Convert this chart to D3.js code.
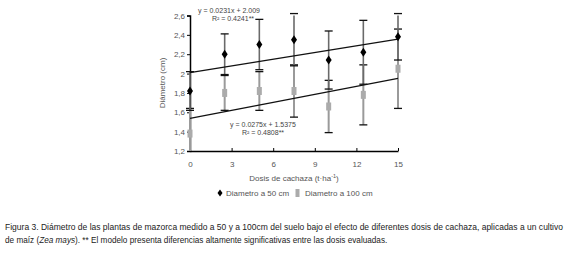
<!DOCTYPE html>
<html>
<head>
<meta charset="utf-8">
<script src="https://cdn.jsdelivr.net/npm/d3@7"></script>
<style>
  body { margin: 0; background: #fff; }
  svg { display: block; font-family: "Liberation Sans", Arial, sans-serif; }
</style>
</head>
<body>
<svg id="chart-area"></svg>
<script>
// data
const dosis = [0, 2.5, 5, 7.5, 10, 12.5, 15]
const diam50 = [1.82, 2.20, 2.30, 2.35, 2.14, 2.22, 2.38]
const err50 = [0.20, 0.21, 0.26, 0.27, 0.30, 0.33, 0.24]
const diam100 = [1.38, 1.80, 1.82, 1.82, 1.66, 1.78, 2.05]
const err100 = [0.26, 0.18, 0.20, 0.27, 0.27, 0.31, 0.41]
const yTicks = [1.2, 1.4, 1.6, 1.8, 2.0, 2.2, 2.4, 2.6]
const yTickLabels = ["1,2", "1,4", "1,6", "1,8", "2", "2,2", "2,4", "2,6"]
const xTicks = [0, 3, 6, 9, 12, 15]
// trend lines: slope, intercept
const fitSlope = [0.0231, 0.0275]
const fitIntercept = [2.009, 1.5375]
const fitLabels = [["y = 0.0231x + 2.009", "R² = 0.4241**"], ["y = 0.0275x + 1.5375", "R² = 0.4808**"]]
const seriesNames = ["Diametro a 50 cm", "Diametro a 100 cm"]

const svgWidth = 570, svgHeight = 254
const svg = d3.select("#chart-area").attr("width", svgWidth).attr("height", svgHeight)

const xScale = d3.scaleLinear().domain([0, 15]).range([190, 398])
const yScale = d3.scaleLinear().domain([1.2, 2.6]).range([151, 15.5])
const clampY = v => yScale(Math.max(1.2, Math.min(2.6, v)))

// axes
const yAxis = svg.append("g")
    .attr("transform", "translate(190,0)")
    .call(d3.axisLeft(yScale).tickValues(yTicks)
        .tickFormat((d, i) => yTickLabels[i]).tickSize(3).tickPadding(2))
yAxis.select(".domain").attr("stroke", "#000").attr("stroke-width", 1.5)
yAxis.selectAll("text").attr("font-size", 8).attr("fill", "#555").attr("font-family", "Liberation Sans, Arial")

const xAxis = svg.append("g")
    .attr("transform", "translate(0,151)")
    .call(d3.axisBottom(xScale).tickValues(xTicks).tickSizeInner(-3).tickSizeOuter(0).tickPadding(10))
xAxis.select(".domain").attr("stroke", "#000").attr("stroke-width", 1.5)
xAxis.selectAll("text").attr("font-size", 8).attr("fill", "#555").attr("font-family", "Liberation Sans, Arial")

svg.append("text")
    .attr("transform", `rotate(-90) translate(${-83},165)`)
    .attr("text-anchor", "middle")
    .attr("font-size", 8).attr("fill", "#555")
    .text("Diámetro (cm)")

svg.append("text")
    .attr("x", 294).attr("y", 181)
    .attr("text-anchor", "middle")
    .attr("font-size", 8).attr("fill", "#555")
    .text("Dosis de cachaza (t·ha")
    .append("tspan").attr("font-size", 5.5).attr("dy", -3).text("-1")
    .select(function() { return this.parentNode })
    .append("tspan").attr("dy", 3).text(")")

// error bars
function errorBars(vals, errs, color, width) {
    const g = svg.append("g")
    g.selectAll("line.bar").data(dosis).enter().append("line")
        .attr("x1", d => xScale(d)).attr("x2", d => xScale(d))
        .attr("y1", (d, i) => clampY(vals[i] + errs[i]))
        .attr("y2", (d, i) => clampY(vals[i] - errs[i]))
        .attr("stroke", color).attr("stroke-width", width)
    const caps = []
    dosis.forEach((d, i) => {
        caps.push([d, vals[i] + errs[i]])
        if (vals[i] - errs[i] >= 1.2) caps.push([d, vals[i] - errs[i]])
    })
    g.selectAll("line.cap").data(caps).enter().append("line")
        .attr("x1", d => xScale(d[0]) - 4).attr("x2", d => xScale(d[0]) + 4)
        .attr("y1", d => yScale(d[1])).attr("y2", d => yScale(d[1]))
        .attr("stroke", "#111").attr("stroke-width", 1.3)
}
errorBars(diam100, err100, "#9a9a9a", 2)
errorBars(diam50, err50, "#6a6a6a", 1.6)

// trend lines
fitSlope.forEach((m, i) => {
    svg.append("line")
        .attr("x1", xScale(0)).attr("x2", xScale(15))
        .attr("y1", yScale(fitIntercept[i])).attr("y2", yScale(fitIntercept[i] + m * 15))
        .attr("stroke", "#111").attr("stroke-width", 1.2)
})

// markers
svg.append("g").selectAll("rect").data(dosis).enter().append("rect")
    .attr("x", d => xScale(d) - 2.5).attr("y", (d, i) => yScale(diam100[i]) - 4)
    .attr("width", 5).attr("height", 8)
    .attr("fill", "#ababab")
svg.append("g").selectAll("path").data(dosis).enter().append("path")
    .attr("d", (d, i) => {
        const x = xScale(d), y = yScale(diam50[i])
        return `M${x},${y - 4.5}L${x + 3},${y}L${x},${y + 4.5}L${x - 3},${y}Z`
    })
    .attr("fill", "#000")

// equation labels
const fitPos = [[[229, 13], [233, 21]], [[263, 127], [263, 135]]]
fitLabels.forEach((lines, i) => {
    lines.forEach((t, j) => {
        svg.append("text")
            .attr("x", fitPos[i][j][0]).attr("y", fitPos[i][j][1])
            .attr("text-anchor", "middle")
            .attr("font-size", 7).attr("fill", "#444")
            .text(t)
    })
})

// legend
const legend = svg.append("g").attr("font-size", 8).attr("fill", "#555")
legend.append("path")
    .attr("d", "M220,189.5L222.5,193L220,196.5L217.5,193Z").attr("fill", "#000")
legend.append("text").attr("x", 226).attr("y", 196).text(seriesNames[0])
legend.append("rect").attr("x", 295.5).attr("y", 189).attr("width", 4).attr("height", 8).attr("fill", "#ababab")
legend.append("text").attr("x", 305).attr("y", 196).text(seriesNames[1])

// caption
const cap = svg.append("g").attr("font-size", 8.2).attr("fill", "#222")
cap.append("text").attr("x", 5).attr("y", 230).attr("textLength", 558).attr("lengthAdjust", "spacingAndGlyphs")
    .text("Figura 3. Diámetro de las plantas de mazorca medido a 50 y a 100cm del suelo bajo el efecto de diferentes dosis de cachaza, aplicadas a un cultivo")
const line2 = cap.append("text").attr("x", 5).attr("y", 243)
line2.append("tspan").text("de maíz (")
line2.append("tspan").attr("font-style", "italic").text("Zea mays")
line2.append("tspan").text("). ** El modelo presenta diferencias altamente significativas entre las dosis evaluadas.")
</script>
</body>
</html>
